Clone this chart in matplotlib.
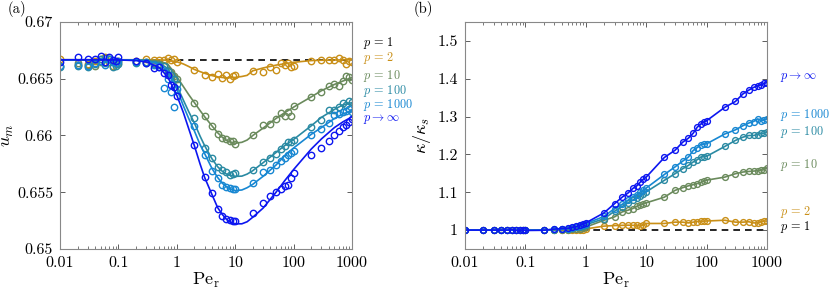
import matplotlib
matplotlib.use("Agg")
import matplotlib.pyplot as plt
from matplotlib.ticker import FixedLocator, FixedFormatter, LogLocator, NullFormatter

plt.rcParams['font.family'] = 'cmr10'
plt.rcParams['mathtext.fontset'] = 'cm'
plt.rcParams['axes.formatter.use_mathtext'] = True

# simulation Peclet numbers
PE = [0.01, 0.02, 0.03, 0.04, 0.05, 0.06, 0.07, 0.08, 0.09, 0.1,
      0.2, 0.3, 0.4, 0.5, 0.6, 0.7, 0.8, 0.9, 1,
      2, 3, 4, 5, 6, 7, 8, 9, 10,
      20, 30, 40, 50, 60, 70, 80, 90, 100,
      200, 300, 400, 500, 600, 700, 800, 900, 1000]

# theory grid (panel a)
PE_TH = [0.01, 0.03, 0.1, 0.2, 0.3, 0.5, 0.7, 1, 1.3, 1.6, 2, 2.5, 3, 4, 5, 6, 7, 8,
         10, 13, 16, 20, 30, 50, 70, 100, 200, 300, 500, 700, 1000]

UM_P1 = 2.0 / 3.0

# panel (a) theory curves
um_th_p2 = [0.66667, 0.66667, 0.66667, 0.66667, 0.66667, 0.66666, 0.66663, 0.66650, 0.66630,
            0.66608, 0.66582, 0.66563, 0.66548, 0.66528, 0.66517, 0.66511, 0.66509, 0.66509,
            0.66512, 0.66520, 0.66530, 0.66570, 0.66595, 0.66620, 0.66632, 0.66645, 0.66660,
            0.66663, 0.66665, 0.66666, 0.66667]
um_th_p10 = [0.66667, 0.66667, 0.66667, 0.66667, 0.66665, 0.66655, 0.66630, 0.66518, 0.66430,
             0.66360, 0.66290, 0.66220, 0.66165, 0.66085, 0.66025, 0.65985, 0.65960, 0.65945,
             0.65932, 0.65940, 0.65960, 0.66000, 0.66065, 0.66150, 0.66200, 0.66250, 0.66340,
             0.66395, 0.66450, 0.66480, 0.66510]
um_th_p100 = [0.66667, 0.66667, 0.66667, 0.66665, 0.66660, 0.66640, 0.66590, 0.66440, 0.66310,
              0.66210, 0.66110, 0.65995, 0.65910, 0.65795, 0.65725, 0.65685, 0.65662, 0.65650,
              0.65640, 0.65642, 0.65660, 0.65690, 0.65760, 0.65850, 0.65910, 0.65965, 0.66085,
              0.66160, 0.66230, 0.66270, 0.66290]
um_th_p1000 = [0.66667, 0.66667, 0.66667, 0.66665, 0.66658, 0.66630, 0.66570, 0.66410, 0.66260,
               0.66150, 0.66040, 0.65920, 0.65840, 0.65710, 0.65630, 0.65580, 0.65550, 0.65532,
               0.65515, 0.65520, 0.65540, 0.65570, 0.65640, 0.65740, 0.65820, 0.65890, 0.66010,
               0.66070, 0.66150, 0.66190, 0.66220]
um_th_pinf = [0.66667, 0.66667, 0.66666, 0.66660, 0.66648, 0.66600, 0.66515, 0.66355, 0.66200,
              0.66060, 0.65910, 0.65750, 0.65630, 0.65480, 0.65365, 0.65305, 0.65265, 0.65240,
              0.65222, 0.65222, 0.65240, 0.65280, 0.65360, 0.65500, 0.65600, 0.65700, 0.65880,
              0.65970, 0.66070, 0.66120, 0.66165]

# panel (a) simulation points
um_p2 = [0.66670, 0.66621, 0.66630, 0.66660, 0.66670, 0.66690, 0.66650, 0.66610, 0.66640, 0.66660,
         0.66660, 0.66672, 0.66665, 0.66668, 0.66662, 0.66680, 0.66664, 0.66672, 0.66648,
         0.66577, 0.66533, 0.66518, 0.66542, 0.66509, 0.66533, 0.66495, 0.66520, 0.66533,
         0.66571, 0.66562, 0.66606, 0.66577, 0.66636, 0.66620, 0.66640, 0.66600, 0.66612,
         0.66659, 0.66662, 0.66662, 0.66666, 0.66680, 0.66666, 0.66630, 0.66659, 0.66650]
um_p10 = [0.66610, 0.66640, 0.66620, 0.66610, 0.66650, 0.66680, 0.66670, 0.66650, 0.66630, 0.66640,
          0.66650, 0.66650, 0.66640, 0.66630, 0.66610, 0.66580, 0.66560, 0.66520, 0.66495,
          0.66289, 0.66172, 0.66084, 0.66013, 0.65975, 0.65965, 0.65954, 0.65950, 0.65925,
          0.66004, 0.66093, 0.66101, 0.66142, 0.66195, 0.66172, 0.66210, 0.66172, 0.66263,
          0.66340, 0.66386, 0.66439, 0.66450, 0.66439, 0.66483, 0.66524, 0.66518, 0.66489]
um_p100 = [0.66600, 0.66610, 0.66600, 0.66630, 0.66670, 0.66640, 0.66670, 0.66600, 0.66610, 0.66630,
           0.66640, 0.66650, 0.66630, 0.66620, 0.66610, 0.66570, 0.66530, 0.66500, 0.66450,
           0.66151, 0.65887, 0.65805, 0.65725, 0.65700, 0.65681, 0.65652, 0.65660, 0.65672,
           0.65700, 0.65767, 0.65804, 0.65834, 0.65880, 0.65910, 0.65945, 0.65940, 0.65960,
           0.66072, 0.66140, 0.66225, 0.66225, 0.66250, 0.66284, 0.66270, 0.66300, 0.66298]
um_p1000 = [0.66610, 0.66620, 0.66610, 0.66640, 0.66660, 0.66620, 0.66670, 0.66650, 0.66640, 0.66660,
            0.66650, 0.66640, 0.66620, 0.66600, 0.66420, 0.66500, 0.66380, 0.66250, 0.66410,
            0.66080, 0.65828, 0.65687, 0.65623, 0.65564, 0.65550, 0.65537, 0.65530, 0.65526,
            0.65579, 0.65678, 0.65696, 0.65737, 0.65775, 0.65800, 0.65830, 0.65850, 0.65864,
            0.66004, 0.66054, 0.66107, 0.66180, 0.66190, 0.66210, 0.66220, 0.66230, 0.66210]
um_pinf = [0.66645, 0.66694, 0.66677, 0.66672, 0.66700, 0.66650, 0.66690, 0.66665, 0.66660, 0.66690,
           0.66657, 0.66640, 0.66592, 0.66600, 0.66548, 0.66533, 0.66445, 0.66430, 0.66348,
           0.65916, 0.65637, 0.65496, 0.65350, 0.65291, 0.65262, 0.65255, 0.65250, 0.65250,
           0.65317, 0.65405, 0.65467, 0.65505, 0.65530, 0.65555, 0.65560, 0.65628, 0.65667,
           0.65826, 0.65893, 0.65954, 0.66004, 0.66040, 0.66072, 0.66093, 0.66118, 0.66145]

# panel (b) effective diffusivity ratio
kap_p2 = [1.000, 1.000, 1.001, 1.000, 1.001, 1.000, 1.001, 1.001, 1.000, 1.001,
          1.000, 1.000, 0.999, 1.000, 0.999, 0.999, 0.999, 1.000, 1.003,
          1.0105, 1.012, 1.0125, 1.013, 1.0125, 1.0125, 1.0105, 1.014, 1.0175,
          1.0175, 1.021, 1.021, 1.019, 1.021, 1.0225, 1.0235, 1.0237, 1.024,
          1.026, 1.021, 1.021, 1.022, 1.019, 1.019, 1.022, 1.024, 1.0237]
kap_p10 = [1.000, 1.000, 1.000, 0.999, 1.000, 1.001, 1.000, 1.000, 1.000, 1.000,
           1.000, 1.000, 1.001, 1.001, 1.002, 1.003, 1.004, 1.005, 1.008,
           1.026, 1.035, 1.048, 1.0526, 1.057, 1.063, 1.066, 1.070, 1.072,
           1.087, 1.105, 1.112, 1.117, 1.120, 1.123, 1.126, 1.129, 1.132,
           1.140, 1.149, 1.1535, 1.155, 1.156, 1.157, 1.158, 1.160, 1.165]
kap_p100 = [1.000, 1.000, 1.000, 1.000, 1.000, 1.000, 1.000, 1.000, 1.000, 1.000,
            1.000, 1.001, 1.002, 1.003, 1.005, 1.007, 1.009, 1.011, 1.014,
            1.030, 1.050, 1.062, 1.072, 1.079, 1.085, 1.091, 1.096, 1.101,
            1.1316, 1.149, 1.162, 1.171, 1.180, 1.186, 1.193, 1.194, 1.195,
            1.221, 1.237, 1.2456, 1.250, 1.250, 1.2526, 1.256, 1.256, 1.2588]
kap_p1000 = [1.000, 1.000, 1.000, 1.000, 1.000, 1.000, 1.000, 1.000, 1.000, 1.000,
             1.000, 1.002, 1.003, 1.004, 1.006, 1.008, 1.011, 1.014, 1.017,
             1.036, 1.057, 1.068, 1.079, 1.088, 1.094, 1.101, 1.106, 1.111,
             1.147, 1.167, 1.182, 1.193, 1.2105, 1.218, 1.226, 1.227, 1.228,
             1.254, 1.265, 1.276, 1.283, 1.287, 1.294, 1.2895, 1.291, 1.294]
kap_pinf = [1.000, 1.000, 1.000, 1.000, 1.000, 1.001, 0.999, 0.999, 1.000, 0.999,
            0.9995, 1.0026, 1.0040, 1.0045, 1.0075, 1.0095, 1.0130, 1.0160, 1.0190,
            1.0455, 1.0700, 1.0870, 1.0980, 1.1100, 1.1170, 1.1270, 1.1350, 1.1400,
            1.1920, 1.2110, 1.2320, 1.2430, 1.2560, 1.2720, 1.2800, 1.2860, 1.2890,
            1.3245, 1.3400, 1.3600, 1.3700, 1.3770, 1.3816, 1.3840, 1.3877, 1.3900]

C_ORANGE = '#c98f17'
C_GREEN = '#6a8a5c'
C_TEAL = '#2a8aa3'
C_LBLUE = '#1787d2'
C_BLUE = '#0c16f0'

series = [
    (C_ORANGE, um_th_p2, um_p2, kap_p2),
    (C_GREEN, um_th_p10, um_p10, kap_p10),
    (C_TEAL, um_th_p100, um_p100, kap_p100),
    (C_LBLUE, um_th_p1000, um_p1000, kap_p1000),
    (C_BLUE, um_th_pinf, um_pinf, kap_pinf),
]

W, H = 830, 292
fig = plt.figure(figsize=(W / 100, H / 100), dpi=100)
ax1 = fig.add_axes([60 / W, 1 - 249 / H, 292 / W, 227 / H])
ax2 = fig.add_axes([465 / W, 1 - 249 / H, 302 / W, 227 / H])

mk = dict(marker='o', mfc='none', ms=4.6, mew=1.0, ls='none')

ax1.plot([0.01, 1000], [UM_P1, UM_P1], color='k', ls=(0, (4, 3)), lw=1.2, zorder=1)
for col, th, sim, kap in series:
    ax1.plot(PE_TH, th, color=col, lw=1.2)
    ax1.plot(PE, sim, color=col, **mk)

ax2.plot([0.01, 1000], [1, 1], color='k', ls=(0, (4, 3)), lw=1.2, zorder=1)
for col, th, sim, kap in series:
    ax2.plot(PE, kap, color=col, lw=1.2, marker='o', mfc='none', ms=4.2, mew=1.0)

for ax in (ax1, ax2):
    ax.set_xscale('log')
    ax.set_xlim(0.01, 1000)
    ax.xaxis.set_major_locator(FixedLocator([0.01, 0.1, 1, 10, 100, 1000]))
    ax.xaxis.set_major_formatter(FixedFormatter(['0.01', '0.1', '1', '10', '100', '1000']))
    ax.xaxis.set_minor_locator(LogLocator(base=10, subs=range(2, 10), numticks=20))
    ax.xaxis.set_minor_formatter(NullFormatter())
    ax.tick_params(which='both', direction='in', top=True, right=True,
                   color='#444444', labelsize=11.5, pad=5)
    ax.tick_params(which='major', length=3.5, width=0.6)
    ax.tick_params(which='minor', length=2, width=0.5)
    for s in ax.spines.values():
        s.set_color('#888888')
        s.set_linewidth(0.8)
    ax.set_xlabel(r'$\mathrm{Pe}_\mathrm{r}$', fontsize=13, labelpad=1)

ax1.set_ylim(0.65, 0.67)
ax1.yaxis.set_major_locator(FixedLocator([0.65, 0.655, 0.66, 0.665, 0.67]))
ax1.yaxis.set_major_formatter(FixedFormatter(['0.65', '0.655', '0.66', '0.665', '0.67']))
ax1.set_ylabel(r'$u_m$', fontsize=13, labelpad=1)

ax2.set_ylim(0.95, 1.55)
ax2.yaxis.set_major_locator(FixedLocator([1, 1.1, 1.2, 1.3, 1.4, 1.5]))
ax2.yaxis.set_major_formatter(FixedFormatter(['1', '1.1', '1.2', '1.3', '1.4', '1.5']))
ax2.set_ylabel(r'$\kappa/\kappa_s$', fontsize=13, labelpad=3)

fig.text(8 / W, 1 - 9 / H, '(a)', fontsize=10.5, va='center')
fig.text(414 / W, 1 - 9 / H, '(b)', fontsize=10.5, va='center')

labels_a = [(r'$p\,=\,1$', 'k', 43), (r'$p\,=\,2$', C_ORANGE, 58),
            (r'$p\,=\,10$', C_GREEN, 76), (r'$p\,=\,100$', C_TEAL, 90.5),
            (r'$p\,=\,1000$', C_LBLUE, 105), (r'$p\rightarrow\infty$', C_BLUE, 119.5)]
for txt, col, yp in labels_a:
    fig.text(363 / W, 1 - yp / H, txt, color=col, fontsize=8.8, va='center')

labels_b = [(r'$p\rightarrow\infty$', C_BLUE, 77), (r'$p\,=\,1000$', C_LBLUE, 115),
            (r'$p\,=\,100$', C_TEAL, 132), (r'$p\,=\,10$', C_GREEN, 165),
            (r'$p\,=\,2$', C_ORANGE, 212), (r'$p\,=\,1$', 'k', 227)]
for txt, col, yp in labels_b:
    fig.text(780 / W, 1 - yp / H, txt, color=col, fontsize=8.8, va='center')

fig.savefig('out.png', dpi=100)
